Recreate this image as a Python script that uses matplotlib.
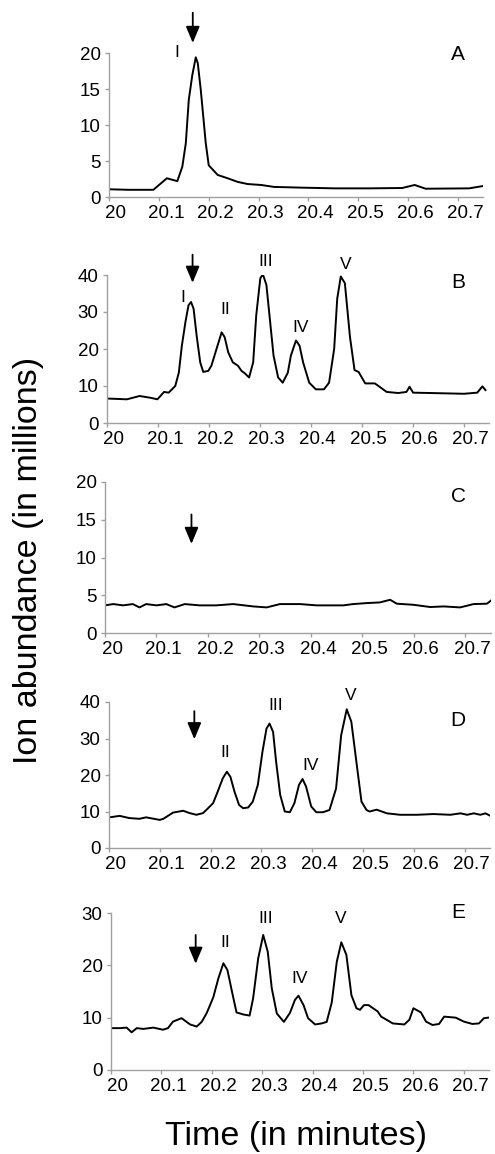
import matplotlib
matplotlib.use("Agg")
import matplotlib.pyplot as plt
from matplotlib.transforms import ScaledTranslation

plt.rcParams['font.family'] = ['Liberation Sans', 'DejaVu Sans']

# ---------------- data ----------------
time_A = [20.002, 20.040, 20.089, 20.116, 20.137, 20.147, 20.154, 20.160, 20.167, 20.174,
          20.178, 20.184, 20.194, 20.200, 20.218, 20.238, 20.258, 20.278, 20.305, 20.331,
          20.386, 20.453, 20.520, 20.588, 20.613, 20.635, 20.722, 20.754]
abund_A = [1.07, 1.0, 1.0, 2.6, 2.2, 4.2, 7.45, 13.5, 16.9, 19.4,
           18.6, 14.9, 7.5, 4.4, 3.06, 2.6, 2.1, 1.8, 1.67, 1.4,
           1.3, 1.2, 1.2, 1.25, 1.67, 1.15, 1.2, 1.57]

time_B = [20.003, 20.039, 20.064, 20.086, 20.099, 20.112, 20.121, 20.134, 20.141, 20.147,
          20.154, 20.160, 20.165, 20.170, 20.176, 20.183, 20.189, 20.199, 20.205, 20.215,
          20.225, 20.231, 20.238, 20.247, 20.257, 20.264, 20.270, 20.279, 20.287, 20.293,
          20.301, 20.306, 20.313, 20.319, 20.327, 20.336, 20.345, 20.355, 20.361, 20.371,
          20.378, 20.385, 20.397, 20.410, 20.426, 20.436, 20.446, 20.452, 20.459, 20.467,
          20.477, 20.486, 20.494, 20.507, 20.526, 20.549, 20.572, 20.588, 20.594, 20.601,
          20.636, 20.701, 20.727, 20.737, 20.743]
abund_B = [6.6, 6.4, 7.3, 6.8, 6.4, 8.4, 8.2, 10.0, 13.6, 20.9,
           27.3, 31.8, 32.7, 30.9, 23.6, 16.4, 13.8, 14.1, 15.5, 20.0,
           24.5, 23.2, 19.1, 16.4, 15.5, 14.1, 13.5, 12.3, 16.4, 29.1,
           39.1, 40.2, 37.3, 29.1, 18.2, 12.3, 10.9, 13.6, 18.2, 22.3,
           20.9, 16.4, 10.9, 9.1, 9.1, 10.9, 20.0, 33.6, 39.6, 37.8,
           23.3, 14.3, 13.8, 10.7, 10.7, 8.4, 8.1, 8.4, 9.8, 8.2,
           8.1, 7.9, 8.2, 9.9, 8.9]

time_C = [20.000, 20.016, 20.035, 20.054, 20.067, 20.080, 20.100, 20.119, 20.135, 20.155,
          20.184, 20.216, 20.249, 20.288, 20.314, 20.340, 20.379, 20.411, 20.463, 20.482,
          20.508, 20.534, 20.554, 20.567, 20.599, 20.632, 20.658, 20.690, 20.716, 20.742,
          20.750]
abund_C = [3.66, 3.83, 3.66, 3.83, 3.39, 3.83, 3.66, 3.83, 3.39, 3.83,
           3.66, 3.66, 3.83, 3.52, 3.39, 3.83, 3.83, 3.66, 3.66, 3.83,
           3.96, 4.05, 4.4, 3.88, 3.74, 3.44, 3.52, 3.39, 3.83, 3.88,
           4.3]

time_D = [20.001, 20.021, 20.040, 20.060, 20.073, 20.100, 20.107, 20.126, 20.146, 20.159,
          20.172, 20.185, 20.195, 20.205, 20.214, 20.224, 20.232, 20.239, 20.247, 20.256,
          20.264, 20.274, 20.283, 20.293, 20.302, 20.310, 20.316, 20.323, 20.329, 20.337,
          20.346, 20.356, 20.365, 20.374, 20.381, 20.388, 20.398, 20.408, 20.421, 20.434,
          20.447, 20.457, 20.468, 20.477, 20.487, 20.497, 20.507, 20.513, 20.527, 20.547,
          20.573, 20.606, 20.639, 20.672, 20.692, 20.705, 20.718, 20.731, 20.741, 20.751]
abund_D = [8.4, 8.8, 8.2, 8.0, 8.4, 7.7, 8.0, 9.7, 10.2, 9.55,
           9.1, 9.55, 10.9, 12.3, 15.45, 19.1, 20.9, 19.5, 15.45, 11.8,
           10.9, 11.1, 12.7, 17.3, 26.3, 32.7, 34.1, 31.8, 23.6, 14.55,
           10.0, 9.8, 12.3, 17.3, 18.9, 16.8, 11.4, 9.8, 9.8, 10.4,
           16.3, 30.9, 38.0, 34.6, 23.6, 12.7, 10.4, 10.0, 10.5, 9.5,
           9.1, 9.1, 9.3, 9.1, 9.5, 9.1, 9.5, 9.1, 9.5, 8.8]

time_E = [20.001, 20.018, 20.031, 20.041, 20.051, 20.064, 20.084, 20.103, 20.113, 20.123,
          20.140, 20.157, 20.170, 20.180, 20.190, 20.203, 20.213, 20.223, 20.231, 20.240,
          20.249, 20.263, 20.275, 20.282, 20.292, 20.302, 20.311, 20.319, 20.329, 20.343,
          20.355, 20.365, 20.372, 20.382, 20.391, 20.405, 20.418, 20.428, 20.438, 20.448,
          20.457, 20.467, 20.477, 20.487, 20.494, 20.502, 20.511, 20.529, 20.536, 20.545,
          20.559, 20.582, 20.592, 20.600, 20.615, 20.625, 20.638, 20.651, 20.661, 20.684,
          20.700, 20.717, 20.730, 20.740, 20.748]
abund_E = [8.0, 8.0, 8.1, 7.2, 8.0, 7.85, 8.1, 7.7, 8.0, 9.25,
           9.9, 8.7, 8.3, 9.2, 10.9, 13.9, 17.5, 20.4, 19.1, 15.0,
           11.0, 10.6, 10.4, 13.7, 21.3, 25.8, 22.6, 15.6, 10.8, 9.2,
           10.9, 13.4, 14.2, 12.4, 9.9, 8.7, 8.9, 9.2, 12.9, 20.7,
           24.4, 22.0, 14.3, 11.8, 11.5, 12.4, 12.4, 11.2, 10.2, 9.7,
           8.9, 8.7, 9.6, 11.8, 11.0, 9.25, 8.6, 8.8, 10.2, 10.0,
           9.25, 8.8, 8.9, 9.9, 10.0]

panel_letters = ['A', 'B', 'C', 'D', 'E']
y_max = [20, 40, 20, 40, 30]
y_ticks = [[0, 5, 10, 15, 20], [0, 10, 20, 30, 40], [0, 5, 10, 15, 20],
           [0, 10, 20, 30, 40], [0, 10, 20, 30]]
x_ticks = [20, 20.1, 20.2, 20.3, 20.4, 20.5, 20.6, 20.7]
x_ticklabels = ['20', '20.1', '20.2', '20.3', '20.4', '20.5', '20.6', '20.7']

# peak labels: (label, time, abundance)
peaks_A = [('I', 20.135, 20.1)]
peaks_B = [('I', 20.148, 33.9), ('II', 20.232, 30.6), ('III', 20.312, 43.6),
           ('IV', 20.380, 25.7), ('V', 20.469, 42.8)]
peaks_C = []
peaks_D = [('II', 20.228, 26.3), ('III', 20.329, 39.1), ('IV', 20.396, 22.7),
           ('V', 20.475, 41.9)]
peaks_E = [('II', 20.226, 24.3), ('III', 20.307, 29.0), ('IV', 20.374, 17.5),
           ('V', 20.455, 29.0)]

arrow_time = 20.168
# arrow (top, tip) in data units for each panel
arrows = [(25.6, 21.4), (45.5, 37.9), (15.7, 11.8), (37.5, 29.8), (25.8, 20.3)]

# ---------------- layout ----------------
W, H = 495, 1154
# left, right, top, bottom in pixels
boxes = [(109, 483, 53, 197), (107, 489, 275, 423), (105, 491, 482, 633),
         (109, 490, 702, 848), (111, 489, 913, 1070)]

series = [(time_A, abund_A, peaks_A), (time_B, abund_B, peaks_B),
          (time_C, abund_C, peaks_C), (time_D, abund_D, peaks_D),
          (time_E, abund_E, peaks_E)]

fig = plt.figure(figsize=(W / 100, H / 100), dpi=100)
axis_col = '#a0a0a0'

for i, ((t, a, pk), (l, r, tp, b)) in enumerate(zip(series, boxes)):
    ax = fig.add_axes([l / W, 1 - b / H, (r - l) / W, (b - tp) / H])
    ax.plot(t, a, color='black', lw=1.4, solid_joinstyle='round')
    ax.set_xlim(20, 20.75)
    ax.set_ylim(0, y_max[i])
    ax.set_yticks(y_ticks[i])
    ax.set_xticks(x_ticks)
    ax.set_xticklabels(x_ticklabels)
    for s in ['top', 'right']:
        ax.spines[s].set_visible(False)
    for s in ['left', 'bottom']:
        ax.spines[s].set_color(axis_col)
        ax.spines[s].set_linewidth(1.0)
    ax.tick_params(axis='both', colors=axis_col, labelcolor='black',
                   labelsize=13.5, length=3, width=1.0)
    ax.tick_params(axis='x', pad=3)
    ax.tick_params(axis='y', pad=3)
    off = ScaledTranslation(7 / 100, 0, fig.dpi_scale_trans)
    for lab in ax.get_xticklabels():
        lab.set_transform(lab.get_transform() + off)
    for name, pt, pv in pk:
        ax.text(pt, pv, name, ha='center', va='center', fontsize=12.5,
                clip_on=False)
    ytop, ytip = arrows[i]
    ax.annotate('', xy=(arrow_time, ytip), xytext=(arrow_time, ytop),
                annotation_clip=False,
                arrowprops=dict(arrowstyle='-|>,head_length=1.0,head_width=0.42',
                                color='black', lw=1.3, shrinkA=0, shrinkB=0))

# panel letters (pixel positions)
letter_pos = [(458, 55), (458, 283), (458, 497), (458, 720), (458, 912)]
for letter, (px, py) in zip(panel_letters, letter_pos):
    fig.text(px / W, 1 - py / H, letter, ha='center', va='center', fontsize=15)

fig.text(296 / W, 1 - 1136 / H, 'Time (in minutes)', ha='center', va='center',
         fontsize=24.5)
fig.text(29 / W, 1 - 560 / H, 'Ion abundance (in millions)', ha='center',
         va='center', rotation=90, fontsize=24.5)

fig.savefig('out.png', dpi=100)
